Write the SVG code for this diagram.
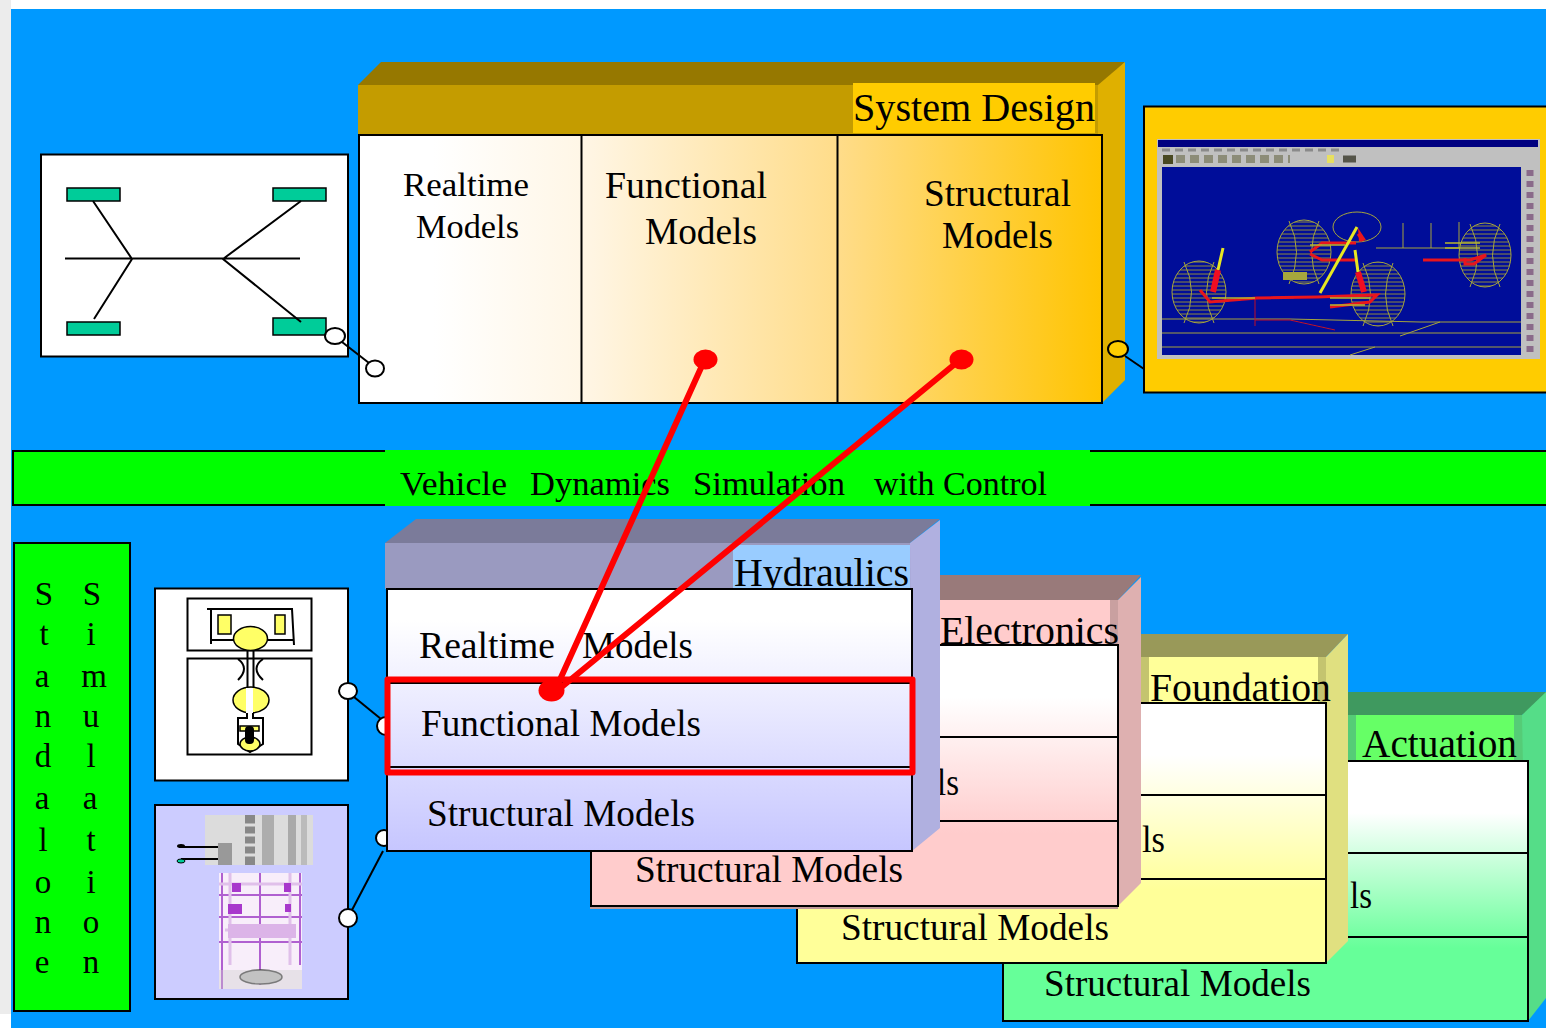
<svg xmlns="http://www.w3.org/2000/svg" width="1546" height="1028" viewBox="0 0 1546 1028">
<style>
text{font-family:"Liberation Serif","Times New Roman",serif;fill:#000}
.p{stroke:#000;stroke-width:2}
.l{stroke:#000;stroke-width:2;fill:none}
.o{fill:#fff;stroke:#000;stroke-width:2}
.r{stroke:#f00;stroke-width:6;fill:none}
.rd{fill:#f00}
.g{fill:#00cc99;stroke:#000;stroke-width:1.5}
.y{fill:#ffff66;stroke:#000;stroke-width:1.5}
.w{fill:none;stroke:#a6a63c;stroke-width:1}
.wh{fill:url(#wire);stroke:#a6a63c;stroke-width:1}
.rl{stroke:#e8141e;stroke-width:3;fill:none}
.yl{stroke:#e6e620;stroke-width:3;fill:none}
.pu{fill:#a838cc}
.pl{fill:#dcb4e8}
</style>
<defs>
<linearGradient id="gSys" x1="0" x2="1" y1="0" y2="0"><stop offset="0" stop-color="#fff"/><stop offset="0.1" stop-color="#fff"/><stop offset="0.3" stop-color="#fff6e6"/><stop offset="0.65" stop-color="#ffdc88"/><stop offset="1" stop-color="#ffc400"/></linearGradient>
<linearGradient id="gHyd" x1="0" x2="0" y1="0" y2="1"><stop offset="0" stop-color="#fff"/><stop offset="0.12" stop-color="#fff"/><stop offset="1" stop-color="#c6c6ff"/></linearGradient>
<linearGradient id="gEl" x1="0" x2="0" y1="0" y2="1"><stop offset="0" stop-color="#fff"/><stop offset="0.2" stop-color="#fff"/><stop offset="0.72" stop-color="#ffcccc"/><stop offset="1" stop-color="#ffcccc"/></linearGradient>
<linearGradient id="gFo" x1="0" x2="0" y1="0" y2="1"><stop offset="0" stop-color="#fff"/><stop offset="0.2" stop-color="#fff"/><stop offset="0.72" stop-color="#ffff99"/><stop offset="1" stop-color="#ffff99"/></linearGradient>
<linearGradient id="gAc" x1="0" x2="0" y1="0" y2="1"><stop offset="0" stop-color="#fff"/><stop offset="0.2" stop-color="#fff"/><stop offset="0.72" stop-color="#66ff99"/><stop offset="1" stop-color="#66ff99"/></linearGradient>
<pattern id="wire" width="6" height="4" patternUnits="userSpaceOnUse"><path d="M0 2H6" stroke="#8f8f3c" stroke-width="1"/></pattern>
<filter id="soft" x="-5%" y="-5%" width="110%" height="110%"><feGaussianBlur stdDeviation="0.7"/></filter>
</defs>
<rect width="1546" height="1028" fill="#fff"/>
<rect x="0" y="0" width="11" height="1014" fill="#ececec"/>
<rect x="11" y="9" width="1535" height="1019" fill="#0099ff"/>

<g id="vehicle-sketch">
<rect class="p" x="41" y="154.500" width="307" height="202" fill="#fff"/>
<rect class="g" x="67" y="188" width="53" height="13"/>
<rect class="g" x="273" y="188" width="53" height="13"/>
<rect class="g" x="67" y="322" width="53" height="13"/>
<rect class="g" x="273" y="318" width="53" height="17"/>
<path class="l" d="M65 258.500H300M93 201L132 259L94 319M301 201L223 259L301 322"/>
</g>

<g id="system-design">
<polygon points="358,85 381,62 1125,62 1102,85" fill="#967800"/>
<rect x="358" y="85" width="744" height="50" fill="#c49c00"/>
<polygon points="1098,85 1125,62 1125,380 1102,403 1098,403" fill="#dfb000"/>
<rect x="853" y="83" width="242" height="50" fill="#ffcc00"/>
<text x="853" y="121" font-size="41" textLength="242" lengthAdjust="spacingAndGlyphs">System Design</text>
<rect class="p" x="359" y="135" width="743" height="268" fill="url(#gSys)"/>
<path class="l" d="M581.500 135V403M837.500 135V403"/>
<text x="403" y="196" font-size="34" textLength="126" lengthAdjust="spacingAndGlyphs">Realtime</text>
<text x="416" y="238" font-size="34" textLength="103" lengthAdjust="spacingAndGlyphs">Models</text>
<text x="605" y="198" font-size="38" textLength="162" lengthAdjust="spacingAndGlyphs">Functional</text>
<text x="645" y="244" font-size="38" textLength="112" lengthAdjust="spacingAndGlyphs">Models</text>
<text x="924" y="206" font-size="38" textLength="147" lengthAdjust="spacingAndGlyphs">Structural</text>
<text x="942" y="248" font-size="38" textLength="111" lengthAdjust="spacingAndGlyphs">Models</text>
</g>

<g id="screenshot-panel">
<rect class="p" x="1144" y="106.500" width="404" height="286" fill="#ffcc00"/>
<g filter="url(#soft)">
<rect x="1157" y="139" width="383" height="220" fill="#c0c0c0"/>
<rect x="1158" y="140" width="380" height="7" fill="#000080"/>
<path d="M1162 150H1340" stroke="#8a8a8a" stroke-width="3" stroke-dasharray="8 5"/>
<rect x="1163" y="155" width="10" height="9" fill="#4a4a20"/>
<path d="M1176 159H1290" stroke="#8c8c78" stroke-width="8" stroke-dasharray="9 5"/>
<rect x="1327" y="155" width="7" height="8" fill="#e8e060"/>
<path d="M1343 159H1356" stroke="#55554a" stroke-width="7"/>
<rect x="1162" y="167" width="359" height="188" fill="#000a99"/>
<path d="M1530 170V352" stroke="#8a6a8a" stroke-width="7" stroke-dasharray="6 5"/>
<ellipse class="wh" cx="1199" cy="292" rx="27" ry="31"/>
<ellipse class="wh" cx="1304" cy="252" rx="27" ry="32"/>
<ellipse class="wh" cx="1378" cy="294" rx="27" ry="32"/>
<ellipse class="wh" cx="1485" cy="255" rx="26" ry="32"/>
<path class="w" d="M1184 262Q1199 292 1184 323M1214 262Q1199 292 1214 323M1289 221Q1304 252 1289 284M1319 221Q1304 252 1319 284M1363 263Q1378 294 1363 326M1393 263Q1378 294 1393 326M1470 224Q1485 255 1470 287M1500 224Q1485 255 1500 287"/>
<ellipse class="w" cx="1357" cy="227" rx="24" ry="15" stroke-width="1.500"/>
<path class="w" d="M1162 319H1290L1420 322H1521M1162 333H1521M1162 347H1521M1400 336L1440 322M1350 355L1375 347M1403 223V248M1431 223V248M1459 222V248M1376 248H1460"/>
<path d="M1255 297V320H1290M1255 320L1255 326M1335 330L1290 320" stroke="#c01428" stroke-width="1" fill="none"/>
<rect x="1283" y="272" width="24" height="8" fill="#a6a63c"/>
<path class="rl" d="M1200 290L1210 302L1257 298L1317 297L1377 295L1370 302L1330 307M1310 252L1322 243H1356M1310 254L1322 260H1356M1358 234L1363 241M1423 260H1470L1486 255L1474 264H1465V258M1423 260H1465"/>
<path class="yl" d="M1357 227L1320 293" stroke-width="3.500"/>
<path class="yl" d="M1223 248L1218 270M1355 250L1358 272" stroke-width="2.500"/>
<path d="M1218 270L1213 292M1358 272L1364 292" stroke="#f01020" stroke-width="6" fill="none"/>
<path d="M1310 245H1345M1445 243H1480M1445 248H1480M1212 298H1255M1330 298H1370M1330 305H1365" stroke="#b8b830" stroke-width="1.500" fill="none"/>
<path d="M1358 228L1366 240L1359 242Z" fill="#e8141e"/>
</g>
</g>

<g id="vehicle-dynamics-band">
<rect class="p" x="13" y="451" width="1535" height="54" fill="#0f0"/>
<rect x="385" y="450" width="705" height="56" fill="#0f0"/>
<text x="400" y="495" font-size="34" textLength="107" lengthAdjust="spacingAndGlyphs">Vehicle</text>
<text x="530" y="495" font-size="34" textLength="140" lengthAdjust="spacingAndGlyphs">Dynamics</text>
<text x="693" y="495" font-size="34" textLength="152" lengthAdjust="spacingAndGlyphs">Simulation</text>
<text x="874" y="495" font-size="34" textLength="173" lengthAdjust="spacingAndGlyphs">with Control</text>
</g>

<g id="standalone-simulation">
<rect class="p" x="14" y="543" width="116" height="468" fill="#0f0"/>
<g font-size="33">
<text x="44" y="605" text-anchor="middle">S</text><text x="44" y="645" text-anchor="middle">t</text><text x="42" y="687" text-anchor="middle">a</text><text x="43" y="727" text-anchor="middle">n</text><text x="43" y="767" text-anchor="middle">d</text><text x="42" y="809" text-anchor="middle">a</text><text x="43" y="851" text-anchor="middle">l</text><text x="43" y="893" text-anchor="middle">o</text><text x="43" y="933" text-anchor="middle">n</text><text x="42" y="973" text-anchor="middle">e</text>
<text x="92" y="605" text-anchor="middle">S</text><text x="91" y="645" text-anchor="middle">i</text><text x="94" y="687" text-anchor="middle">m</text><text x="91" y="727" text-anchor="middle">u</text><text x="91" y="767" text-anchor="middle">l</text><text x="90" y="809" text-anchor="middle">a</text><text x="91" y="851" text-anchor="middle">t</text><text x="91" y="893" text-anchor="middle">i</text><text x="91" y="933" text-anchor="middle">o</text><text x="91" y="973" text-anchor="middle">n</text>
</g>
</g>

<g id="hydraulic-schematic">
<rect class="p" x="155" y="588.500" width="193" height="192" fill="#fff"/>
<rect class="l" x="187.500" y="598.500" width="124" height="52"/>
<rect class="l" x="187.500" y="658.500" width="124" height="96"/>
<path class="l" d="M207 609H292L294 645M211 609V644M211 640H236M268 640H293"/>
<rect class="y" x="218" y="615" width="13" height="19"/>
<rect class="y" x="275" y="615" width="10" height="19"/>
<ellipse class="y" cx="250.500" cy="638.500" rx="17" ry="12" stroke-width="2"/>
<path class="l" d="M247.500 650V702M253.500 650V702M238 659Q250 668 238 680M263 659Q250 668 263 680"/>
<ellipse class="y" cx="251" cy="700" rx="18" ry="13" stroke-width="2"/>
<rect x="246" y="688" width="7" height="25" fill="#fff"/>
<path d="M247 713V718H238V744L250 752L263 744V718H253V713" fill="#fff" stroke="#000" stroke-width="2"/>
<rect class="y" x="240" y="726" width="19" height="5"/>
<ellipse class="y" cx="250" cy="744" rx="10" ry="7"/>
<rect x="245" y="726" width="9" height="18" rx="4" fill="#000"/>
</g>

<g id="circuit-schematic">
<rect class="p" x="155" y="805" width="193" height="194" fill="#ccccff"/>
<g filter="url(#soft)">
<rect x="205" y="815" width="108" height="50" fill="#dcdcdc"/>
<rect x="245" y="815" width="10" height="50" fill="#888"/>
<path d="M245 825H255M245 835H255M245 845H255M245 855H255M262 825H274M262 835H274M262 845H274M262 855H274" stroke="#ddd" stroke-width="3"/>
<rect x="262" y="815" width="12" height="50" fill="#999" opacity="0.7"/>
<rect x="288" y="815" width="8" height="50" fill="#aaa"/>
<rect x="301" y="815" width="6" height="50" fill="#bbb"/>
<rect x="218" y="843" width="14" height="22" fill="#999"/>
<rect x="219" y="873" width="83" height="116" fill="#f8eefa"/>
<path d="M260 873V985M219 917H302M219 942H302M222 873V989M300 873V965M219 895H302" stroke="#b060d0" stroke-width="2" fill="none"/>
<path d="M219 884H302M225 930H296M230 873V965M290 873V965" stroke="#e0c0ea" stroke-width="3" fill="none"/>
<rect class="pu" x="232" y="883" width="9" height="9"/>
<rect class="pu" x="284" y="883" width="7" height="9"/>
<rect class="pu" x="228" y="904" width="14" height="10"/>
<rect class="pu" x="285" y="904" width="6" height="8"/>
<rect class="pl" x="228" y="924" width="68" height="14"/>
<ellipse cx="261" cy="977" rx="21" ry="7" fill="#bbb" stroke="#444" stroke-width="1.500"/>
<rect x="219" y="970" width="83" height="19" fill="#ccc" opacity="0.4"/>
</g>
<path class="l" d="M181 847H218M181 859H218"/>
<ellipse cx="181" cy="846" rx="4" ry="2" fill="#000"/>
<ellipse cx="181" cy="861" rx="4" ry="2" fill="#00cc99" stroke="#000"/>
</g>

<g id="actuation">
<polygon points="1347,715 1347,692 1560,692 1522,715" fill="#3f995f"/>
<rect x="1347" y="715" width="175" height="46" fill="#66ff66"/>
<rect x="1347" y="715" width="9" height="46" fill="#55cc77"/>
<rect x="1514" y="715" width="9" height="46" fill="#55cc77"/>
<polygon points="1522,715 1546,692 1546,998 1528,1021" fill="#55dd88"/>
<text x="1362" y="757" font-size="41" textLength="155" lengthAdjust="spacingAndGlyphs">Actuation</text>
<rect class="p" x="1003" y="761" width="525" height="260" fill="url(#gAc)"/>
<path class="l" d="M1003 853H1528M1003 937H1528"/>
<text x="1350" y="908" font-size="38" textLength="22" lengthAdjust="spacingAndGlyphs">ls</text>
<text x="1044" y="996" font-size="38" textLength="267" lengthAdjust="spacingAndGlyphs">Structural Models</text>
</g>

<g id="foundation">
<polygon points="1141,657 1141,634 1348,634 1326,657" fill="#999959"/>
<rect x="1141" y="657" width="185" height="46" fill="#ffff99"/>
<rect x="1141" y="657" width="8" height="46" fill="#c4c46f"/>
<rect x="1318" y="657" width="8" height="46" fill="#c4c46f"/>
<polygon points="1326,657 1348,634 1348,941 1326,963" fill="#e0e080"/>
<rect class="p" x="797" y="703" width="529" height="260" fill="url(#gFo)"/>
<path class="l" d="M797 795H1326M797 879H1326"/>
<text x="1150" y="701" font-size="41" textLength="181" lengthAdjust="spacingAndGlyphs">Foundation</text>
<text x="1142" y="852" font-size="38" textLength="23" lengthAdjust="spacingAndGlyphs">ls</text>
<text x="841" y="940" font-size="38" textLength="268" lengthAdjust="spacingAndGlyphs">Structural Models</text>
</g>

<g id="electronics">
<polygon points="940,600 940,575 1141,575 1118,600" fill="#997a7a"/>
<rect x="940" y="600" width="178" height="46" fill="#ffcccc"/>
<rect x="1110" y="600" width="8" height="46" fill="#c9a0a0"/>
<rect x="590" y="906" width="528" height="3" fill="#c09a9a"/>
<polygon points="1118,600 1141,577 1141,883 1118,906" fill="#deb0b0"/>
<text x="940" y="644" font-size="41" textLength="179" lengthAdjust="spacingAndGlyphs">Electronics</text>
<rect class="p" x="591" y="645" width="527" height="261" fill="url(#gEl)"/>
<path class="l" d="M591 737H1118M591 821H1118"/>
<text x="937" y="795" font-size="38" textLength="22" lengthAdjust="spacingAndGlyphs">ls</text>
<text x="635" y="882" font-size="38" textLength="268" lengthAdjust="spacingAndGlyphs">Structural Models</text>
</g>

<g id="connector-backs">
<ellipse class="o" cx="386" cy="726" rx="9" ry="9"/>
<ellipse class="o" cx="384" cy="838" rx="8" ry="8"/>
</g>

<g id="hydraulics">
<polygon points="385,543 416,519 940,519 910,543" fill="#7b7b9a"/>
<rect x="385" y="543" width="527" height="46" fill="#9a9ac0"/>
<polygon points="910,543 940,520 940,828 912,851" fill="#b0b0e0"/>
<rect x="733" y="545" width="177" height="44" fill="#99ccff"/>
<text x="734" y="586" font-size="41" textLength="175" lengthAdjust="spacingAndGlyphs">Hydraulics</text>
<rect class="p" x="387" y="589" width="525" height="262" fill="url(#gHyd)"/>
<path class="l" d="M387 683H912M387 767H912"/>
<text x="419" y="658" font-size="38" textLength="136" lengthAdjust="spacingAndGlyphs">Realtime</text>
<text x="582" y="658" font-size="38" textLength="111" lengthAdjust="spacingAndGlyphs">Models</text>
<text x="421" y="736" font-size="38" textLength="280" lengthAdjust="spacingAndGlyphs">Functional Models</text>
<text x="427" y="826" font-size="38" textLength="268" lengthAdjust="spacingAndGlyphs">Structural Models</text>
</g>

<g id="connectors">
<path class="l" d="M342 342L369 363"/>
<ellipse class="o" cx="335" cy="336" rx="10" ry="8"/>
<ellipse class="o" cx="375" cy="368.500" rx="9" ry="8"/>
<path class="l" d="M1125 356L1144 369"/>
<ellipse cx="1118" cy="349" rx="10" ry="8" fill="#ffcc00" stroke="#000" stroke-width="2"/>
<path class="l" d="M354 697L381 719"/>
<ellipse class="o" cx="348" cy="691" rx="9" ry="8"/>
<path class="l" d="M352 910L383 851"/>
<ellipse class="o" cx="348" cy="918" rx="9" ry="9"/>
<rect class="r" x="387.500" y="679.500" width="525" height="93" stroke-linejoin="round"/>
<path class="r" d="M705 359L558 684M961 359L558 690"/>
<ellipse class="rd" cx="705.500" cy="359.500" rx="12" ry="10"/>
<ellipse class="rd" cx="961.500" cy="359.500" rx="12" ry="10"/>
<ellipse class="rd" cx="551.500" cy="690.500" rx="13" ry="11"/>
</g>
</svg>
